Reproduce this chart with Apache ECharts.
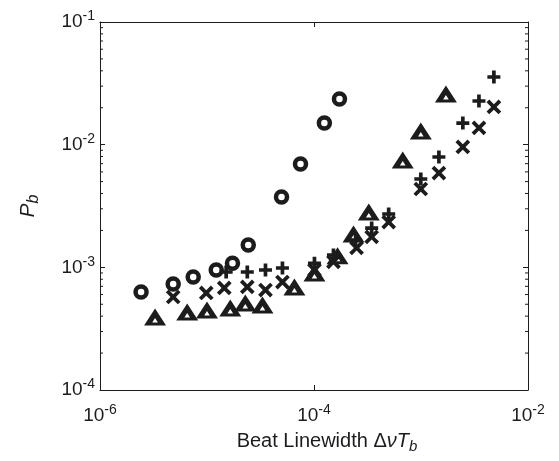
<!DOCTYPE html>
<html><head><meta charset="utf-8">
<script src="https://cdn.jsdelivr.net/npm/echarts@6/dist/echarts.min.js"></script>
<style>html,body{margin:0;padding:0;background:#fff}#c{width:559px;height:461px}</style>
</head><body><div id="c"></div><script>
// data
const circleX = [2.42e-6, 4.83e-6, 7.43e-6, 1.22e-5, 1.73e-5, 2.43e-5, 4.97e-5, 7.48e-5, 1.25e-4, 1.73e-4];
const circleY = [6.30e-4, 7.31e-4, 8.34e-4, 9.51e-4, 1.08e-3, 1.52e-3, 3.74e-3, 6.95e-3, 1.50e-2, 2.36e-2];
const triX = [3.27e-6, 6.53e-6, 1.0e-5, 1.65e-5, 2.28e-5, 3.30e-5, 6.56e-5, 1.01e-4, 1.66e-4, 2.34e-4, 3.25e-4, 6.75e-4, 9.96e-4, 1.71e-3];
const triY = [3.94e-4, 4.32e-4, 4.49e-4, 4.66e-4, 5.12e-4, 4.93e-4, 6.92e-4, 9.00e-4, 1.24e-3, 1.87e-3, 2.82e-3, 7.50e-3, 1.29e-2, 2.59e-2];
const plusX = [1.51e-5, 2.38e-5, 3.52e-5, 5.07e-5, 1.01e-4, 1.52e-4, 2.45e-4, 3.46e-4, 4.99e-4, 9.96e-4, 1.47e-3, 2.46e-3, 3.48e-3, 4.80e-3];
const plusY = [9.16e-4, 9.16e-4, 9.51e-4, 9.88e-4, 1.08e-3, 1.26e-3, 1.67e-3, 2.09e-3, 2.72e-3, 5.25e-3, 7.93e-3, 1.50e-2, 2.27e-2, 3.56e-2];
const crossX = [4.83e-6, 9.84e-6, 1.45e-5, 2.38e-5, 3.52e-5, 5.07e-5, 1.01e-4, 1.52e-4, 2.50e-4, 3.46e-4, 4.99e-4, 9.96e-4, 1.47e-3, 2.46e-3, 3.48e-3, 4.80e-3];
const crossY = [5.73e-4, 6.18e-4, 6.79e-4, 6.92e-4, 6.53e-4, 7.59e-4, 9.51e-4, 1.11e-3, 1.44e-3, 1.77e-3, 2.34e-3, 4.35e-3, 5.87e-3, 9.58e-3, 1.37e-2, 2.03e-2];
const xTickExps = [-6, -4, -2];
const yTickExps = [-4, -3, -2, -1];
const yMinorMantissas = [2, 3, 4, 5, 6, 7, 8, 9];

const INK = '#1c1c1c';
const FONT = 'Liberation Sans';
const zip = (a, b) => a.map((v, i) => [v, b[i]]);
const yMinor = [];
for (let e = -4; e < -1; e++) yMinorMantissas.forEach(m => yMinor.push([1e-6, m * Math.pow(10, e)]));

function supLabel(v) {
  const e = Math.round(Math.log10(v));
  return '{b|10}{s|' + e + '}';
}
const rich = {
  b: { fontSize: 19, fontFamily: FONT, color: INK },
  s: { fontSize: 14, fontFamily: FONT, color: INK, padding: [0, 0, 11, 0] }
};
const lineStyle = { color: INK, width: 1 };

const PLUS = 'path://M4.3,0H7.7V4.3H12V7.7H7.7V12H4.3V7.7H0V4.3H4.3Z';
const CROSS = 'path://M6.6,0H10.4V6.6H17V10.4H10.4V17H6.6V10.4H0V6.6H6.6Z';
const TRI = 'path://M11,0L22,17L0,17Z M11,9.5L8.2,14L13.8,14Z';

const chart = echarts.init(document.getElementById('c'), null, { renderer: 'canvas' });
chart.setOption({
  animation: false,
  backgroundColor: '#fff',
  grid: { left: 100, right: 31, top: 22, bottom: 71, containLabel: false },
  xAxis: [{
    type: 'log', logBase: 10, min: 1e-6, max: 1e-2, interval: 2,
    position: 'bottom',
    axisLine: { show: true, lineStyle },
    axisTick: { show: true, inside: true, length: 5, lineStyle },
    splitLine: { show: false },
    axisLabel: { formatter: supLabel, rich, margin: 13 },
    name: '{r|Beat Linewidth Δ}{i|νT}{sub|b}',
    nameLocation: 'middle', nameGap: 38,
    nameTextStyle: {
      padding: [0, 0, 0, 26],
      rich: {
        r: { fontSize: 20, fontFamily: FONT, color: INK },
        i: { fontSize: 20, fontFamily: FONT, fontStyle: 'italic', color: INK },
        sub: { fontSize: 15, fontFamily: FONT, fontStyle: 'italic', color: INK, padding: [11, 0, 0, 0], verticalAlign: 'top' }
      }
    }
  }, {
    type: 'log', logBase: 10, min: 1e-6, max: 1e-2, interval: 2,
    position: 'top',
    axisLine: { show: true, lineStyle },
    axisTick: { show: true, inside: true, length: 5, lineStyle },
    splitLine: { show: false },
    axisLabel: { show: false }
  }],
  yAxis: [{
    type: 'log', logBase: 10, min: 1e-4, max: 1e-1, interval: 1,
    position: 'left',
    axisLine: { show: true, lineStyle },
    axisTick: { show: true, inside: true, length: 5, lineStyle },
    splitLine: { show: false },
    axisLabel: { formatter: supLabel, rich, margin: 5 },
    name: '{i|P}{sub|b}',
    nameLocation: 'middle', nameGap: 58, nameRotate: 90,
    nameTextStyle: {
      rich: {
        i: { fontSize: 21, fontFamily: FONT, fontStyle: 'italic', color: INK },
        sub: { fontSize: 16, fontFamily: FONT, fontStyle: 'italic', color: INK, padding: [11, 0, 0, 0], verticalAlign: 'top' }
      }
    }
  }, {
    type: 'log', logBase: 10, min: 1e-4, max: 1e-1, interval: 1,
    position: 'right',
    axisLine: { show: true, lineStyle },
    axisTick: { show: true, inside: true, length: 5, lineStyle },
    splitLine: { show: false },
    axisLabel: { show: false }
  }],
  series: [
    {
      type: 'custom', silent: true, z: 1,
      data: yMinor,
      renderItem: function (params, api) {
        const v = api.value(1);
        const l = api.coord([1e-6, v]);
        const r = api.coord([1e-2, v]);
        return { type: 'group', children: [
          { type: 'line', shape: { x1: l[0], y1: l[1], x2: l[0] + 3, y2: l[1] }, style: { stroke: INK, lineWidth: 1 } },
          { type: 'line', shape: { x1: r[0], y1: r[1], x2: r[0] - 3, y2: r[1] }, style: { stroke: INK, lineWidth: 1 } }
        ] };
      }
    },
    { type: 'scatter', name: 'circle', data: zip(circleX, circleY), symbol: 'circle', symbolSize: 11,
      itemStyle: { color: 'rgba(255,255,255,0)', borderColor: INK, borderWidth: 4.5, opacity: 1 } },
    { type: 'scatter', name: 'triangle', data: zip(triX, triY), symbol: TRI, symbolSize: [22, 17],
      itemStyle: { color: INK, opacity: 1 } },
    { type: 'scatter', name: 'plus', data: zip(plusX, plusY), symbol: PLUS, symbolSize: 13,
      itemStyle: { color: INK, opacity: 1 } },
    { type: 'scatter', name: 'cross', data: zip(crossX, crossY), symbol: CROSS, symbolSize: 17, symbolRotate: 45,
      itemStyle: { color: INK, opacity: 1 } }
  ]
});
</script></body></html>
